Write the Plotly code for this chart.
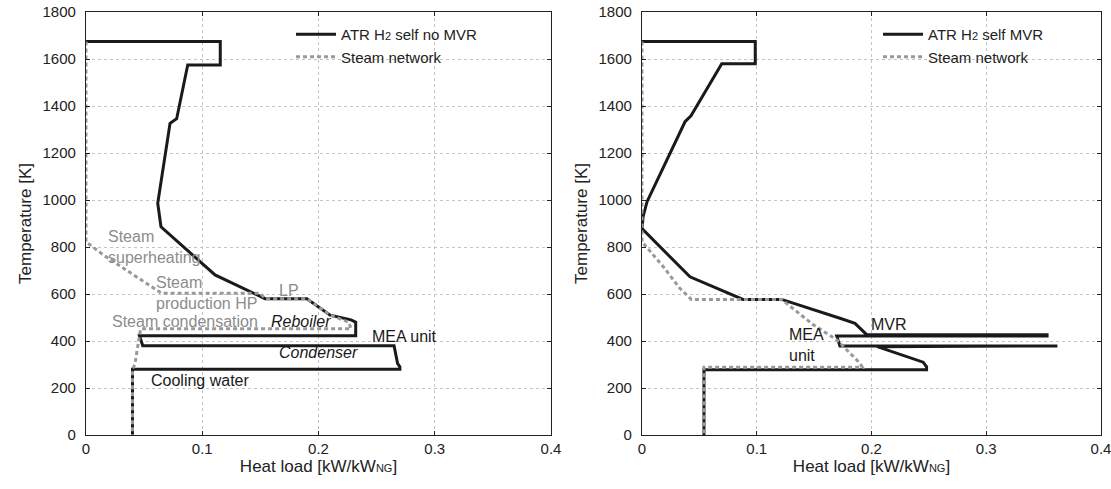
import plotly.graph_objects as go

# ---------------- data ----------------
# Left panel: ATR H2 self no MVR
left_hot_x = [0, 0.1155, 0.1155, 0.0875, 0.078, 0.0723, 0.0617, 0.0645, 0.111, 0.154, 0.19, 0.21, 0.228, 0.232,
              0.232, 0.046, 0.0488, 0.265, 0.268, 0.27, 0.27, 0.040, 0.040]
left_hot_T = [1675, 1675, 1575, 1575, 1346, 1326, 986, 886, 681, 580, 580, 510, 490, 480,
              422, 422, 380, 380, 305, 290, 280, 280, 0]
left_steam_x = [0, 0, 0.015, 0.035, 0.0565, 0.065, 0.150, 0.154, 0.19, 0.21, 0.226, 0.228, 0.047, 0.042, 0.040, 0.040]
left_steam_T = [1675, 822, 766, 702, 631, 603, 603, 580, 580, 510, 480, 452, 452, 300, 280, 0]

# Right panel: ATR H2 self MVR
right_hot_x = [0, 0.0987, 0.0987, 0.0695, 0.0427, 0.0375, 0.0044, 0.001, 0.0, 0.0418, 0.088, 0.1217, 0.1725,
               0.1856, 0.1958, 0.353, 0.353, 0.1697, 0.1725, 0.362, 0.362, 0.205, 0.245, 0.248, 0.248, 0.054, 0.054]
right_hot_T = [1675, 1675, 1580, 1580, 1358, 1333, 993, 930, 878, 673, 577, 577, 497,
               475, 427, 427, 421, 421, 379, 379, 376, 376, 310, 290, 278, 278, 0]
right_steam_x = [0, 0, 0.0186, 0.033, 0.043, 0.1217, 0.149, 0.17, 0.19, 0.192, 0.054, 0.054]
right_steam_T = [1675, 822, 716, 624, 577, 577, 470, 404, 305, 288, 288, 0]

x_ticks = [0, 0.1, 0.2, 0.3, 0.4]
x_tick_labels = ["0", "0.1", "0.2", "0.3", "0.4"]
y_ticks = [0, 200, 400, 600, 800, 1000, 1200, 1400, 1600, 1800]
y_tick_labels = [str(v) for v in y_ticks]

FONT = "Arial, Liberation Sans, sans-serif"
BLACK = "#1a1a1a"
GRAY = "#999999"
TXT_GRAY = "#8c8c8c"

fig = go.Figure()

fig.add_trace(go.Scatter(x=left_hot_x, y=left_hot_T, mode="lines",
                         line=dict(color=BLACK, width=3),
                         name='ATR H<span style="font-size:11px">2</span> self no MVR',
                         xaxis="x", yaxis="y", legend="legend"))
fig.add_trace(go.Scatter(x=left_steam_x, y=left_steam_T, mode="lines",
                         line=dict(color=GRAY, width=3, dash="4px,3px"),
                         name="Steam network", xaxis="x", yaxis="y", legend="legend"))
fig.add_trace(go.Scatter(x=right_hot_x, y=right_hot_T, mode="lines",
                         line=dict(color=BLACK, width=3),
                         name='ATR H<span style="font-size:11px">2</span> self MVR',
                         xaxis="x2", yaxis="y2", legend="legend2"))
fig.add_trace(go.Scatter(x=right_steam_x, y=right_steam_T, mode="lines",
                         line=dict(color=GRAY, width=3, dash="4px,3px"),
                         name="Steam network", xaxis="x2", yaxis="y2", legend="legend2"))

W, H = 1111, 489
ydom = [1 - 435 / H, 1 - 12 / H]

axis_common = dict(showline=True, linecolor="#222", linewidth=1.2, mirror="allticks",
                   ticks="inside", ticklen=4, tickcolor="#222",
                   showgrid=True, gridcolor="#c4c4c4", griddash="dot", gridwidth=1,
                   zeroline=False, tickfont=dict(family=FONT, size=15, color="#222"),
                   automargin=False, ticklabeloverflow="allow")

xtitle = dict(text='Heat load [kW/kW<span style="font-size:11px">NG</span>]',
              font=dict(family=FONT, size=17, color="#222"), standoff=2)
ytitle = dict(text="Temperature [K]", font=dict(family=FONT, size=17, color="#222"), standoff=6)

fig.update_layout(
    width=W, height=H,
    margin=dict(l=0, r=0, t=0, b=0),
    paper_bgcolor="white", plot_bgcolor="white",
    font=dict(family=FONT, size=15, color="#222"),
    xaxis=dict(domain=[86 / W, 551 / W], range=[0, 0.4], tickvals=x_ticks, ticktext=x_tick_labels,
               anchor="y", title=xtitle, **axis_common),
    yaxis=dict(domain=ydom, range=[0, 1800], tickvals=y_ticks, ticktext=y_tick_labels,
               anchor="x", title=ytitle, ticklabelstandoff=6, **axis_common),
    xaxis2=dict(domain=[642 / W, 1101 / W], range=[0, 0.4], tickvals=x_ticks, ticktext=x_tick_labels,
                anchor="y2", title=xtitle, **axis_common),
    yaxis2=dict(domain=ydom, range=[0, 1800], tickvals=y_ticks, ticktext=y_tick_labels,
                anchor="x2", title=ytitle, ticklabelstandoff=6, **axis_common),
    legend=dict(x=291 / W, y=1 - 18 / H, xanchor="left", yanchor="top", bgcolor="rgba(0,0,0,0)",
                font=dict(family=FONT, size=15, color="#222"), tracegroupgap=0, itemwidth=40),
    legend2=dict(x=878 / W, y=1 - 18 / H, xanchor="left", yanchor="top", bgcolor="rgba(0,0,0,0)",
                 font=dict(family=FONT, size=15, color="#222"), tracegroupgap=0, itemwidth=40),
    showlegend=True,
)

def ann(text, x, y, ref, color, italic=False, xanchor="left"):
    fig.add_annotation(text=text, x=x, y=y, xref="x" + ref, yref="y" + ref, showarrow=False,
                       xanchor=xanchor, yanchor="middle", align="left",
                       font=dict(family=FONT, size=16, color=color,
                                 style="italic" if italic else "normal"))

ann("Steam<br>superheating", 0.0172, 798, "", TXT_GRAY)
ann("Steam<br>production HP", 0.0585, 606, "", TXT_GRAY)
ann("LP", 0.164, 617, "", TXT_GRAY)
ann("Steam condensation", 0.0206, 481, "", TXT_GRAY)
ann("Reboiler", 0.157, 481, "", BLACK, italic=True)
ann("Condenser", 0.164, 353, "", BLACK, italic=True)
ann("Cooling water", 0.054, 230, "", BLACK)
ann("MEA unit", 0.244, 418, "", BLACK)
ann("MVR", 0.215, 470, "2", BLACK, xanchor="center")
ann("MEA<br>unit", 0.126, 385, "2", BLACK)

fig.write_html("out.html")
